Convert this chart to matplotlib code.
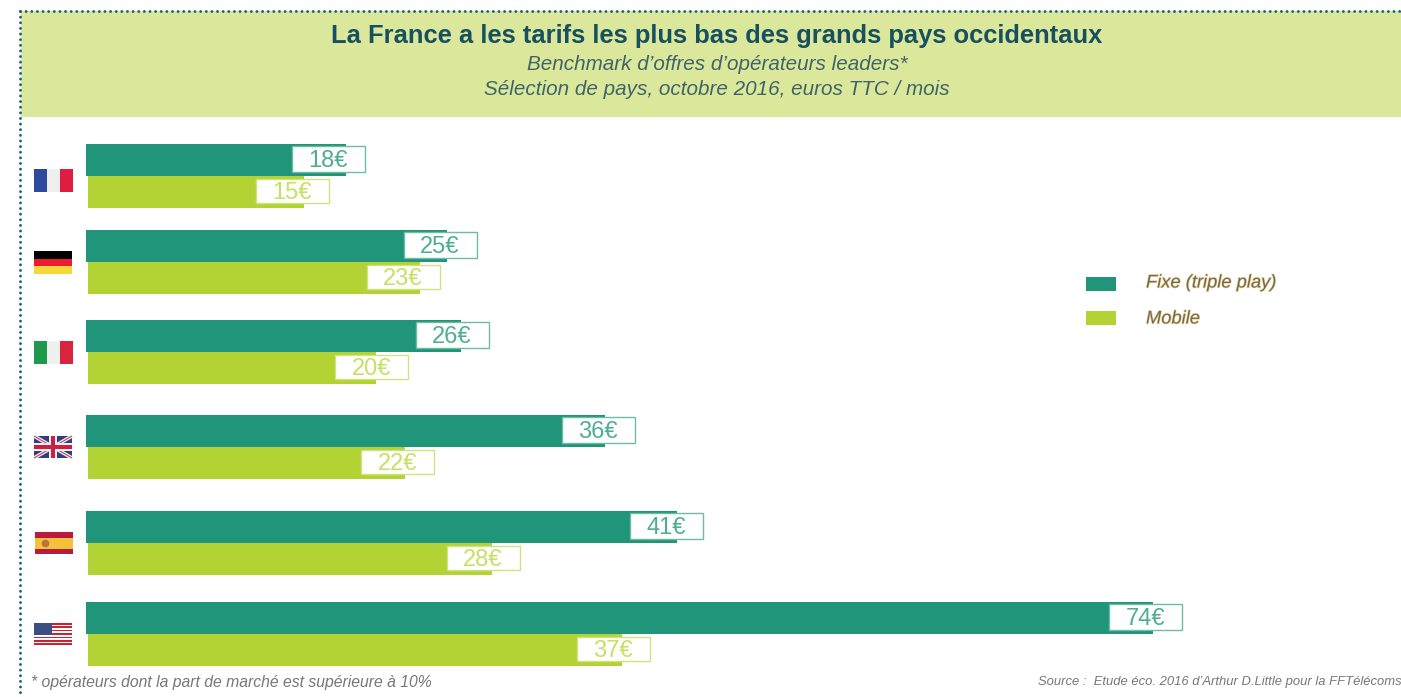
import matplotlib
matplotlib.use("Agg")
import matplotlib.pyplot as plt
import matplotlib.patheffects as pe
from matplotlib.patches import Rectangle, Circle

countries = ["France", "Allemagne", "Italie", "Royaume-Uni", "Espagne", "Etats-Unis"]
fixe = [18, 25, 26, 36, 41, 74]
mobile = [15, 23, 20, 22, 28, 37]

W, H = 1401, 697
EURO_PX = 14.42
GREEN = "#20957a"
LIME = "#b3d335"

# layout, in pixels of the picture
row_top = [144, 230, 320, 415, 511, 602]
fixe_box_over = [19, 30, 28, 30, 26, 29]
mobile_box_over = [25, 20, 32, 29, 28, 28]
flag_box = [(34, 169), (34, 251), (34, 341), (34, 436), (35, 532), (34, 623)]

fig = plt.figure(figsize=(W / 100, H / 100), dpi=100)

# page axes in pixels, used for the header, flags and notes
page = fig.add_axes([0, 0, 1, 1])
page.set_xlim(0, W)
page.set_ylim(H, 0)
page.axis("off")

# bar axes: x in euros, same pixel rows as the page
ax = fig.add_axes([0, 0, 1, 1], facecolor="none")
ax.set_xlim(-86 / EURO_PX, (W - 86) / EURO_PX)
ax.set_ylim(H, 0)
ax.axis("off")


def rect(x, y, w, h, color, z=2):
    page.add_patch(Rectangle((x, y), w, h, facecolor=color, edgecolor="none", zorder=z))


def stripes(x, y, w, h, colors, vertical=False):
    for i, c in enumerate(colors):
        if vertical:
            rect(x + i * w / len(colors), y, w / len(colors), h, c)
        else:
            rect(x, y + i * h / len(colors), w, h / len(colors), c)


def flag_uk(x, y, w, h):
    clip = Rectangle((x, y), w, h, transform=page.transData)
    rect(x, y, w, h, "#2f3f84")
    for (a, b), (c, d) in [((x, y), (x + w, y + h)), ((x, y + h), (x + w, y))]:
        page.plot([a, c], [b, d], color="#f4eef0", lw=2.6, clip_path=clip, zorder=3, solid_capstyle="butt")
        page.plot([a, c], [b, d], color="#d0405e", lw=0.8, clip_path=clip, zorder=3, solid_capstyle="butt")
    rect(x + w / 2 - 4, y, 8, h, "#f4eef0", z=4)
    rect(x, y + h / 2 - 4, w, 8, "#f4eef0", z=4)
    rect(x + w / 2 - 2.2, y, 4.4, h, "#c8203f", z=5)
    rect(x, y + h / 2 - 2.2, w, 4.4, "#c8203f", z=5)


def flag_spain(x, y, w, h):
    stripes(x, y, w, h, ["#b71c3c", "#f4c13a", "#f4c13a", "#b71c3c"])
    page.add_patch(Circle((x + 10.5, y + h / 2 + 0.5), 3.8, facecolor="#b5763e", edgecolor="none", zorder=3))


def flag_us(x, y, w, h):
    colors = ["#cf2030" if i % 2 == 0 else "#ffffff" for i in range(13)]
    stripes(x, y, w, h, colors)
    rect(x, y, w * 0.47, h * 0.56, "#3a5080", z=3)


def draw_flag(name, x, y):
    if name == "France":
        stripes(x, y, 39, 23, ["#2e4a9e", "#eef0f0", "#e01c40"], vertical=True)
    elif name == "Allemagne":
        stripes(x, y, 38, 23, ["#000000", "#ee1c2e", "#f6d838"])
    elif name == "Italie":
        stripes(x, y, 39, 23, ["#1f9a4c", "#eef2ee", "#d8243c"], vertical=True)
    elif name == "Royaume-Uni":
        flag_uk(x, y, 38, 22)
    elif name == "Espagne":
        flag_spain(x, y, 38, 22)
    else:
        flag_us(x, y, 38, 22)


# header band and dotted frame
rect(21, 11, W - 21, 106, "#dbe89c", z=1)
dots = dict(color="#1c5f7a", lw=2.1, linestyle=(0, (0.01, 1.92)), dash_capstyle="round", zorder=3)
page.plot([20, W], [10.5, 10.5], **dots)
page.plot([20, 20], [10.5, H], **dots)

page.text(716.5, 36.5, "La France a les tarifs les plus bas des grands pays occidentaux",
          family="Liberation Sans", weight="bold", size=18.34, color="#17505f", ha="center", va="center")
page.text(717, 64, "Benchmark d’offres d’opérateurs leaders*",
          family="Liberation Sans", style="italic", size=14.9, color="#3f6468", ha="center", va="center")
page.text(717, 89.5, "Sélection de pays, octobre 2016, euros TTC / mois",
          family="Liberation Sans", style="italic", size=14.9, color="#3f6468", ha="center", va="center")

# bars and value boxes
for i, name in enumerate(countries):
    top = row_top[i]
    ax.barh(top + 16, fixe[i], height=32, color=GREEN, zorder=2)
    ax.barh(top + 48, mobile[i], left=2 / EURO_PX, height=32, color=LIME, zorder=2)

    right = 86 + fixe[i] * EURO_PX + fixe_box_over[i]
    ax.add_patch(Rectangle(((right - 73 - 86) / EURO_PX, top + 2), 73 / EURO_PX, 26, facecolor="white",
                           edgecolor="#6fbca6", lw=1, zorder=3))
    ax.text((right - 37 - 86) / EURO_PX, top + 17, f"{fixe[i]}€", color="#4fad95", size=17,
            family="Liberation Sans", ha="center", va="center", zorder=4)

    right = 88 + mobile[i] * EURO_PX + mobile_box_over[i]
    ax.add_patch(Rectangle(((right - 73 - 86) / EURO_PX, top + 35), 73 / EURO_PX, 24, facecolor="white",
                           edgecolor="#cfe27e", lw=1, zorder=3))
    ax.text((right - 37 - 86) / EURO_PX, top + 49, f"{mobile[i]}€", color="#c6e063", size=17,
            family="Liberation Sans", ha="center", va="center", zorder=4)

    draw_flag(name, *flag_box[i])

# legend
halo = [pe.withStroke(linewidth=1, foreground="#f3d999")]
rect(1086, 277, 30, 14, GREEN)
rect(1086, 311, 30, 14, LIME)
page.text(1146, 283, "Fixe (triple play)", family="Liberation Sans", style="italic", size=13.2,
          color="#726a58", va="center", path_effects=halo)
page.text(1146, 319, "Mobile", family="Liberation Sans", style="italic", size=13.2,
          color="#726a58", va="center", path_effects=halo)

# notes
page.text(31, 682, "* opérateurs dont la part de marché est supérieure à 10%", family="Liberation Sans",
          style="italic", size=11.3, color="#777777", va="center")
page.text(1038, 682, "Source :  Etude éco. 2016 d’Arthur D.Little pour la FFTélécoms", family="Liberation Sans",
          style="italic", size=9.4, color="#777777", va="center")

fig.savefig("out.png", dpi=100)
